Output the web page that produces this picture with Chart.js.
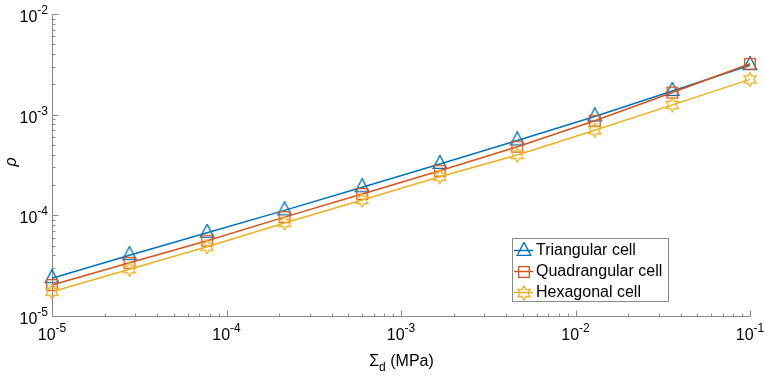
<!DOCTYPE html>
<html><head><meta charset="utf-8">
<script src="https://cdn.jsdelivr.net/npm/chart.js@4.4.1/dist/chart.umd.min.js"></script>
<style>html,body{margin:0;padding:0;background:#fff}#wrap{width:765px;height:377px;position:relative}</style>
</head><body><div id="wrap"><canvas id="c" width="765" height="377"></canvas></div>
<script>
// ---- data ----
const stress = [1e-5, 2.78e-5, 7.74e-5, 2.15e-4, 5.99e-4, 1.67e-3, 4.64e-3, 1.29e-2, 3.59e-2, 1e-1];
const triangular   = [2.37e-5, 4.02e-5, 6.71e-5, 1.12e-4, 1.90e-4, 3.24e-4, 5.54e-4, 9.6e-4, 1.72e-3, 3.1e-3];
const quadrangular = [2.03e-5, 3.38e-5, 5.60e-5, 9.6e-5, 1.63e-4, 2.77e-4, 4.81e-4, 8.7e-4, 1.66e-3, 3.2e-3];
const hexagonal    = [1.74e-5, 2.91e-5, 4.88e-5, 8.4e-5, 1.42e-4, 2.42e-4, 3.97e-4, 7.0e-4, 1.25e-3, 2.24e-3];
const seriesNames = ['Triangular cell', 'Quadrangular cell', 'Hexagonal cell'];
const xTickExps = [-5, -4, -3, -2, -1];
const yTickExps = [-5, -4, -3, -2];
const xTitleMain = 'Σ', xTitleSub = 'd', xTitleRest = ' (MPa)';
const yTitle = 'ρ';

const COLORS = ['#0072BD', '#D95319', '#EDB120'];
const FONT = '"Liberation Sans", Arial, Helvetica, sans-serif';
const AXIS = '#8a8a8a';

function makeMarker(kind, color) {
  const c = document.createElement('canvas');
  const S = 18; c.width = S; c.height = S;
  const g = c.getContext('2d');
  g.strokeStyle = color; g.lineWidth = 1.3; g.lineJoin = 'miter';
  const cx = S / 2, cy = S / 2;
  g.beginPath();
  if (kind === 'tri') {
    g.moveTo(cx, cy - 8.6); g.lineTo(cx + 6.8, cy + 4.4); g.lineTo(cx - 6.8, cy + 4.4); g.closePath();
  } else if (kind === 'sq') {
    g.rect(cx - 5.3, cy - 5.3, 10.6, 10.6);
  } else {
    const R = 7, r = 4.04;
    for (let i = 0; i < 12; i++) {
      const a = -Math.PI / 2 + i * Math.PI / 6;
      const rr = i % 2 === 0 ? R : r;
      const px = cx + rr * Math.cos(a), py = cy + rr * Math.sin(a);
      if (i === 0) g.moveTo(px, py); else g.lineTo(px, py);
    }
    g.closePath();
  }
  g.stroke();
  return c;
}
const markers = [makeMarker('tri', COLORS[0]), makeMarker('sq', COLORS[1]), makeMarker('hex', COLORS[2])];
const seriesValues = [triangular, quadrangular, hexagonal];

const datasets = seriesValues.map((vals, i) => ({
  label: seriesNames[i],
  data: stress.map((x, j) => ({ x: x, y: vals[j] })),
  borderColor: COLORS[i],
  backgroundColor: COLORS[i],
  borderWidth: 1.5,
  pointStyle: markers[i],
  pointRadius: 8,
  tension: 0,
  clip: false,
  order: 3 - i
}));

function drawPow(ctx, exp, x, y, align) {
  ctx.fillStyle = '#000';
  ctx.textBaseline = 'alphabetic';
  ctx.textAlign = 'left';
  ctx.font = '16px ' + FONT;
  const wb = ctx.measureText('10').width;
  ctx.font = '12px ' + FONT;
  const es = String(exp);
  const we = ctx.measureText(es).width;
  const total = wb + we;
  const start = align === 'center' ? x - total / 2 : x - total;
  ctx.font = '16px ' + FONT;
  ctx.fillText('10', start, y);
  ctx.font = '12px ' + FONT;
  ctx.fillText(es, start + wb, y - 8);
}

const axesPlugin = {
  id: 'matlabAxes',
  beforeDatasetsDraw(chart) {
    const ctx = chart.ctx, xs = chart.scales.x, ys = chart.scales.y;
    const L = Math.round(xs.left) + 0.5, R = Math.round(xs.right) + 0.5;
    const T = Math.round(ys.top) + 0.5, B = Math.round(ys.bottom) + 0.5;
    ctx.save();
    ctx.strokeStyle = AXIS; ctx.lineWidth = 1;
    ctx.beginPath();
    ctx.moveTo(L, T); ctx.lineTo(L, B); ctx.lineTo(R, B);
    for (let e = yTickExps[0]; e <= yTickExps[yTickExps.length - 1]; e++) {
      for (let m = 1; m <= 9; m++) {
        const v = m * Math.pow(10, e);
        if (v > ys.max * 1.0001) break;
        const py = Math.round(ys.getPixelForValue(v)) + 0.5;
        const len = m === 1 ? 6 : 3;
        ctx.moveTo(L, py); ctx.lineTo(L + len, py);
      }
    }
    for (let e = xTickExps[0]; e <= xTickExps[xTickExps.length - 1]; e++) {
      for (let m = 1; m <= 9; m++) {
        const v = m * Math.pow(10, e);
        if (v > xs.max * 1.0001) break;
        const px = Math.round(xs.getPixelForValue(v)) + 0.5;
        const len = m === 1 ? 6 : 3;
        ctx.moveTo(px, B); ctx.lineTo(px, B - len);
      }
    }
    ctx.stroke();
    yTickExps.forEach(e => drawPow(ctx, e, 48, ys.getPixelForValue(Math.pow(10, e)) + 8, 'right'));
    xTickExps.forEach(e => drawPow(ctx, e, xs.getPixelForValue(Math.pow(10, e)), 340, 'center'));
    ctx.fillStyle = '#000';
    ctx.font = '16px ' + FONT;
    const w1 = ctx.measureText(xTitleMain).width;
    const w3 = ctx.measureText(xTitleRest).width;
    ctx.font = '12px ' + FONT;
    const w2 = ctx.measureText(xTitleSub).width;
    const tot = w1 + w2 + w3;
    let sx = (L + R) / 2 - tot / 2;
    ctx.font = '16px ' + FONT;
    ctx.fillText(xTitleMain, sx, 366);
    ctx.font = '12px ' + FONT;
    ctx.fillText(xTitleSub, sx + w1, 371);
    ctx.font = '16px ' + FONT;
    ctx.fillText(xTitleRest, sx + w1 + w2, 366);
    ctx.save();
    ctx.translate(12, 162);
    ctx.rotate(-Math.PI / 2);
    ctx.font = 'italic 16px ' + FONT;
    ctx.textAlign = 'center'; ctx.textBaseline = 'middle';
    ctx.fillText(yTitle, 0, 0);
    ctx.restore();
    ctx.restore();
  },
  afterDraw(chart) {
    const ctx = chart.ctx;
    const bx = 512, by = 238, bw = 156, bh = 63;
    ctx.save();
    ctx.fillStyle = '#fff';
    ctx.fillRect(bx, by, bw, bh);
    ctx.strokeStyle = AXIS; ctx.lineWidth = 1;
    ctx.strokeRect(bx + 0.5, by + 0.5, bw, bh);
    const rows = [250, 271, 292];
    ctx.font = '16px ' + FONT;
    ctx.textBaseline = 'middle'; ctx.textAlign = 'left';
    seriesNames.forEach((n, i) => {
      const y = rows[i];
      ctx.strokeStyle = COLORS[i]; ctx.lineWidth = 1.5;
      ctx.beginPath(); ctx.moveTo(514, y + 0.5); ctx.lineTo(533, y + 0.5); ctx.stroke();
      const mk = markers[i];
      ctx.drawImage(mk, 524 - mk.width / 2, y + 1 - mk.height / 2);
      ctx.fillStyle = '#000';
      ctx.fillText(n, 536, y + 1);
    });
    ctx.restore();
  }
};

new Chart(document.getElementById('c'), {
  type: 'line',
  data: { datasets: datasets },
  options: {
    responsive: false,
    animation: false,
    layout: { padding: { left: 52, top: 14, right: 15, bottom: 61 } },
    plugins: { legend: { display: false }, tooltip: { enabled: false } },
    scales: {
      x: {
        type: 'logarithmic', min: 1e-5, max: 1e-1,
        grid: { display: false }, border: { display: false }, ticks: { display: false },
        afterFit(s) { s.height = 0; }
      },
      y: {
        type: 'logarithmic', min: 1e-5, max: 1e-2,
        grid: { display: false }, border: { display: false }, ticks: { display: false },
        afterFit(s) { s.width = 0; }
      }
    }
  },
  plugins: [axesPlugin]
});
</script>
</body></html>
